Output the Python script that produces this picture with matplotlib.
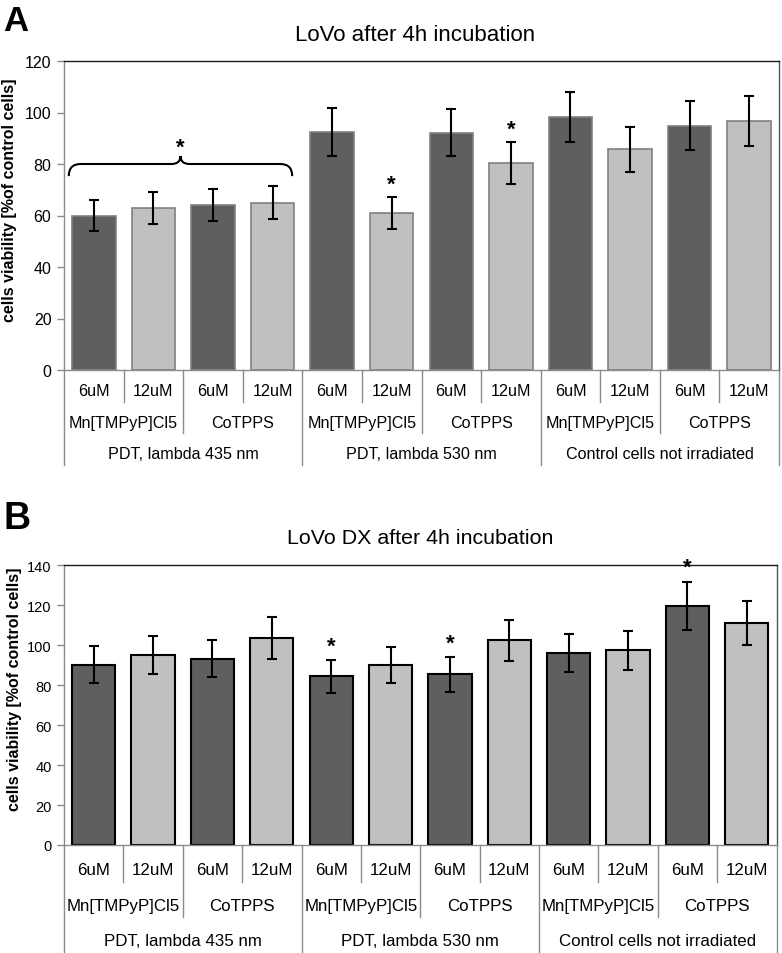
import numpy as np
import matplotlib
matplotlib.use('Agg')
import matplotlib.pyplot as plt
import matplotlib.transforms as mtransforms
from matplotlib.path import Path
from matplotlib.patches import PathPatch

plt.rcParams['font.family'] = ['Liberation Sans', 'DejaVu Sans']

W, H = 782, 954

# category levels (outer -> inner)
conditions = ['PDT, lambda 435 nm', 'PDT, lambda 530 nm', 'Control cells not irradiated']
compounds = ['Mn[TMPyP]Cl5', 'CoTPPS']
doses = ['6uM', '12uM']

# panel A: LoVo
lovo_mean = [60.0, 63.0, 64.0, 65.0, 92.6, 61.0, 92.2, 80.5, 98.2, 85.7, 94.9, 96.7]
lovo_err = [6.0, 6.2, 6.2, 6.4, 9.3, 6.1, 9.2, 8.1, 9.8, 8.7, 9.5, 9.7]
lovo_stars = [5, 7]
lovo_brace = [0, 1, 2, 3]   # bars grouped under one significance brace
lovo_brace_level = 80

# panel B: LoVo DX
dx_mean = [90.1, 95.0, 93.1, 103.7, 84.3, 89.8, 85.3, 102.4, 96.1, 97.3, 119.7, 111.1]
dx_err = [9.2, 9.4, 9.3, 10.5, 8.3, 9.0, 8.7, 10.3, 9.5, 9.8, 12.0, 11.0]
dx_stars = [4, 6, 10]

dark = '#5f5f5f'
light = '#c0c0c0'
axis_grey = '#8c8c8c'

fig = plt.figure(figsize=(W / 100, H / 100), dpi=100)


def px_axes(left, top, right, bottom):
    return fig.add_axes([left / W, 1 - bottom / H, (right - left) / W, (bottom - top) / H])


def draw_panel(ax, means, errs, stars, ymax, ystep, edge, edge_lw, cap,
               tick_fs, cat_fs, rows_px, divs_px, star_off):
    n = len(means)
    x = np.arange(n)
    colors = [dark, light] * (n // 2)
    ax.bar(x, means, width=0.73, color=colors, edgecolor=edge, linewidth=edge_lw, zorder=2)
    ax.errorbar(x, means, yerr=errs, fmt='none', ecolor='black', elinewidth=1.5,
                capsize=cap, capthick=1.5, zorder=3)
    for i in stars:
        ax.annotate('*', xy=(i, means[i] + errs[i]), xytext=(0, star_off),
                    textcoords='offset points', ha='center', va='center',
                    fontsize=16, fontweight='bold', annotation_clip=False)

    ax.set_xlim(-0.5, n - 0.5)
    ax.set_ylim(0, ymax)
    ax.set_yticks(np.arange(0, ymax + 1, ystep))
    ax.set_xticks([])
    ax.tick_params(axis='y', length=5, width=1, color=axis_grey, labelsize=tick_fs, pad=4)
    ax.spines['top'].set_color('#1a1a1a')
    ax.spines['right'].set_color('#555555')
    ax.spines['left'].set_color(axis_grey)
    ax.spines['bottom'].set_color(axis_grey)
    for s in ax.spines.values():
        s.set_linewidth(1)

    # multi-level category axis
    ax_h = ax.get_position().height * H
    trans = mtransforms.blended_transform_factory(ax.transData, ax.transAxes)

    def vline(xv, depth):
        ax.plot([xv, xv], [0, -depth / ax_h], color=axis_grey, lw=1,
                transform=trans, clip_on=False)

    for i in range(n + 1):
        xv = i - 0.5
        if i == 0 or i == n or i % 4 == 0:
            vline(xv, divs_px[2])
        elif i % 2 == 0:
            vline(xv, divs_px[1])
        else:
            vline(xv, divs_px[0])

    for i in range(n):
        ax.text(i, -rows_px[0] / ax_h, doses[i % 2], transform=trans,
                ha='center', va='center', fontsize=cat_fs)
    for j in range(n // 2):
        ax.text(2 * j + 0.5, -rows_px[1] / ax_h, compounds[j % 2], transform=trans,
                ha='center', va='center', fontsize=cat_fs)
    for k in range(n // 4):
        ax.text(4 * k + 1.5, -rows_px[2] / ax_h, conditions[k], transform=trans,
                ha='center', va='center', fontsize=cat_fs)


# ---- panel A
axA = px_axes(64, 62, 779, 371)
draw_panel(axA, lovo_mean, lovo_err, lovo_stars, 120, 20, '#808080', 1.2, 3.3,
           11.5, 11.6, (20.7, 52.5, 84), (31.7, 63, 95), 9)

# curly brace over the first group
x0 = lovo_brace[0] - 0.42
x1 = lovo_brace[-1] + 0.33
xc = (x0 + x1) / 2
yh = lovo_brace_level
y0 = yh - 4.7
yp = yh + 3.1
verts = [(x0, y0), (x0, yh), (x0 + 0.2, yh),
         (xc - 0.15, yh),
         (xc, yh), (xc, yp),
         (xc, yh), (xc + 0.15, yh),
         (x1 - 0.2, yh),
         (x1, yh), (x1, y0)]
codes = [Path.MOVETO, Path.CURVE3, Path.CURVE3,
         Path.LINETO,
         Path.CURVE3, Path.CURVE3,
         Path.CURVE3, Path.CURVE3,
         Path.LINETO,
         Path.CURVE3, Path.CURVE3]
axA.add_patch(PathPatch(Path(verts, codes), facecolor='none', edgecolor='black',
                        lw=1.5, zorder=4))
axA.annotate('*', xy=(xc, yp), xytext=(0, 6), textcoords='offset points',
             ha='center', va='center', fontsize=16, fontweight='bold')

fig.text(415 / W, 1 - 41 / H, 'LoVo after 4h incubation', ha='center', va='baseline',
         fontsize=16)
fig.text(3 / W, 1 - 31 / H, 'A', ha='left', va='baseline', fontsize=25, fontweight='bold')
fig.text(10 / W, 1 - 200 / H, 'cells viability [%of control cells]', rotation=90,
         ha='center', va='center', fontsize=11.5, fontweight='bold')

# ---- panel B
axB = px_axes(64, 566, 776.5, 846)
draw_panel(axB, dx_mean, dx_err, dx_stars, 140, 20, 'black', 1.5, 3.6,
           10.5, 12.2, (25, 61, 96), (36.6, 71.6, 110), 10)

fig.text(420 / W, 1 - 544 / H, 'LoVo DX after 4h incubation', ha='center', va='baseline',
         fontsize=15.4)
fig.text(4 / W, 1 - 529 / H, 'B', ha='left', va='baseline', fontsize=27, fontweight='bold')
fig.text(15 / W, 1 - 689 / H, 'cells viability [%of control cells]', rotation=90,
         ha='center', va='center', fontsize=11.5, fontweight='bold')

fig.savefig('out.png', dpi=100)
